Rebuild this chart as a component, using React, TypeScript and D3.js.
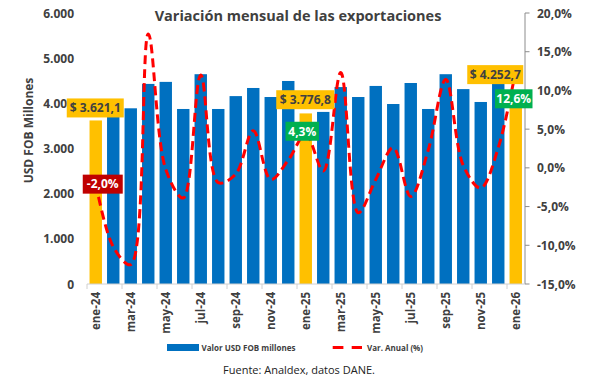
import React from "react";
import * as d3 from "d3";

const months = [
  "ene-24","feb-24","mar-24","abr-24","may-24","jun-24","jul-24","ago-24","sep-24","oct-24","nov-24","dic-24",
  "ene-25","feb-25","mar-25","abr-25","may-25","jun-25","jul-25","ago-25","sep-25","oct-25","nov-25","dic-25",
  "ene-26",
];
const exportValues = [
  3621.1, 3950, 3890, 4430, 4475, 3875, 4645, 3875, 4160, 4340, 4140, 4495,
  3776.8, 3810, 4360, 4140, 4385, 3985, 4450, 3875, 4645, 4315, 4030, 4450,
  4252.7,
];
const annualVar = [
  -2.0, -10.2, -12.5, 17.3, -0.2, -3.9, 12.0, -1.9, -0.8, 4.8, -1.5, 1.0,
  4.3, -0.4, 12.3, -5.8, -1.5, 2.6, -3.7, 2.3, 11.4, 0.3, -2.6, 2.6,
  12.6,
];
const highlighted = ["ene-24", "ene-25", "ene-26"];
const leftTicks = [0, 1000, 2000, 3000, 4000, 5000, 6000];
const rightTicks = [-15, -10, -5, 0, 5, 10, 15, 20];

const W = 590, H = 383;
const L = 87, R = 524.5, T = 13, B = 284;
const FONT = "'Open Sans', 'Noto Sans', sans-serif";
const TXT = "#404040";

const fmtNum = (v: number, d: number) => {
  const s = v.toFixed(d).split(".");
  const int = s[0].replace(/\B(?=(\d{3})+(?!\d))/g, ".");
  return d > 0 ? `${int},${s[1]}` : int;
};
const fmtPct = (v: number) => `${v.toFixed(1).replace(".", ",")}%`;

export default function App() {
  const x = d3.scaleBand<string>().domain(months).range([L, R]).paddingInner(0.29).paddingOuter(0.145);
  const yL = d3.scaleLinear().domain([0, 6000]).range([B, T]);
  const yR = d3.scaleLinear().domain([-15, 20]).range([B, T]);
  const cx = (m: string) => (x(m) as number) + x.bandwidth() / 2;
  const step = x.step();
  const boundary = (i: number) => L + i * step;

  const line = d3
    .line<number>()
    .x((_, i) => cx(months[i]))
    .y((v) => yR(v))
    .curve(d3.curveCatmullRom.alpha(0.5));

  const idx = (m: string) => months.indexOf(m);

  const boxes: [string, number, number, number, string, string][] = [
    [`$ ${fmtNum(exportValues[idx("ene-24")], 1)}`, cx("ene-24") - 0.5, yL(exportValues[idx("ene-24")]) - 12.5, 57, "#FFC000", TXT],
    [`$ ${fmtNum(exportValues[idx("ene-25")], 1)}`, cx("ene-25") - 0.5, yL(exportValues[idx("ene-25")]) - 13.7, 58, "#FFC000", TXT],
    [`$ ${fmtNum(exportValues[idx("ene-26")], 1)}`, cx("ene-26") - 20.5, yL(exportValues[idx("ene-26")]) - 17.3, 56, "#FFC000", TXT],
    [fmtPct(annualVar[idx("ene-24")]), cx("ene-24") + 7, yR(annualVar[idx("ene-24")]) + 0.8, 40, "#C00000", "#FFFFFF"],
    [fmtPct(annualVar[idx("ene-25")]), cx("ene-25") - 3.5, yR(annualVar[idx("ene-25")]) - 3.3, 33.5, "#00B050", "#FFFFFF"],
    [fmtPct(annualVar[idx("ene-26")]), cx("ene-26") - 2, yR(annualVar[idx("ene-26")]) + 28.5, 37.5, "#00B050", "#FFFFFF"],
  ];

  return (
    <svg width={W} height={H} style={{ position: "absolute", left: 0, top: 0, background: "#fff" }} fontFamily={FONT}>
      <rect x={0} y={0} width={W} height={H} fill="#fff" />
      <text x={298} y={21} textAnchor="middle" fontSize={14.5} fontWeight={700} fill={TXT}>
        Variación mensual de las exportaciones
      </text>

      {leftTicks.map((t) => (
        <text key={t} x={74} y={yL(t) + 4.5} textAnchor="end" fontSize={12} fontWeight={700} fill={TXT}>
          {fmtNum(t, 0)}
        </text>
      ))}
      <text transform={`translate(33,${(T + B) / 2 - 18}) rotate(-90)`} textAnchor="middle" fontSize={12} fontWeight={700} fill={TXT}>
        USD FOB Millones
      </text>

      <line x1={525} x2={525} y1={T} y2={B} stroke="#8C8C8C" strokeWidth={1} />
      {rightTicks.map((t) => (
        <g key={t}>
          <line x1={525} x2={529.5} y1={yR(t)} y2={yR(t)} stroke="#8C8C8C" />
          <text x={537} y={yR(t) + 4.5} fontSize={12} fontWeight={700} fill={TXT}>
            {fmtPct(t)}
          </text>
        </g>
      ))}

      {months.map((m, i) => (
        <rect
          key={m}
          x={x(m)}
          y={yL(exportValues[i])}
          width={x.bandwidth()}
          height={B - yL(exportValues[i])}
          fill={highlighted.includes(m) ? "#FFC000" : "#0070C0"}
        />
      ))}

      <line x1={L} x2={525} y1={B} y2={B} stroke="#D0D0D0" />
      {months.map((m, i) =>
        i % 2 === 0 ? (
          <g key={m}>
            <line x1={boundary(i)} x2={boundary(i)} y1={B} y2={B + 5} stroke="#D0D0D0" />
            <text
              transform={`translate(${cx(m) + 4},${B + 8}) rotate(-90)`}
              textAnchor="end"
              fontSize={11.5}
              fontWeight={700}
              fill={TXT}
            >
              {m}
            </text>
          </g>
        ) : null
      )}

      <path d={line(annualVar) || ""} fill="none" stroke="#FF0000" strokeWidth={3} strokeDasharray="9,5" />

      {boxes.map(([t, bx, by, bw, fill, tc], i) => (
        <g key={i}>
          <rect x={bx - bw / 2} y={by - 9.5} width={bw} height={19} fill={fill} />
          <text x={bx} y={by + 4.3} textAnchor="middle" fontSize={12} fontWeight={700} fill={tc}>
            {t}
          </text>
        </g>
      ))}

      <rect x={167} y={344} width={32} height={7} fill="#0070C0" />
      <text x={201.5} y={350.5} fontSize={8} fontWeight={700} fill={TXT}>
        Valor USD FOB millones
      </text>
      <line x1={332.7} x2={362} y1={347.5} y2={347.5} stroke="#FF0000" strokeWidth={3} strokeDasharray="10.7,8.3" />
      <text x={367} y={350.5} fontSize={8} fontWeight={700} fill={TXT}>
        Var. Anual (%)
      </text>

      <text x={299} y={374} textAnchor="middle" fontSize={11} fill="#222">
        Fuente: Analdex, datos DANE.
      </text>
    </svg>
  );
}
